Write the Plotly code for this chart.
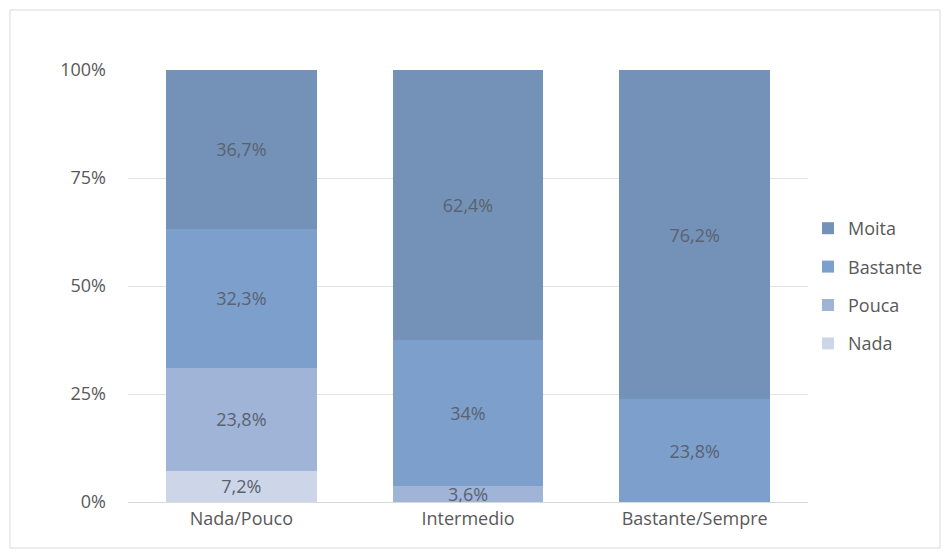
import plotly.graph_objects as go

categories = ["Nada/Pouco", "Intermedio", "Bastante/Sempre"]
series_names = ["Nada", "Pouca", "Bastante", "Moita"]
nada = [7.2, 0, 0]
pouca = [23.8, 3.6, 0]
bastante = [32.3, 34, 23.8]
moita = [36.7, 62.4, 76.2]
labels_nada = ["7,2%", "", ""]
labels_pouca = ["23,8%", "3,6%", ""]
labels_bastante = ["32,3%", "34%", "23,8%"]
labels_moita = ["36,7%", "62,4%", "76,2%"]
tick_vals = [0, 25, 50, 75, 100]
tick_text = ["0%", "25%", "50%", "75%", "100%"]

colors = ["#cdd6e8", "#a0b4d7", "#7d9fcc", "#7492b8"]
values = [nada, pouca, bastante, moita]
texts = [labels_nada, labels_pouca, labels_bastante, labels_moita]
ranks = [4, 3, 2, 1]

W, H = 942, 551
L, R, T, B = 120, 142, 62, 57
pw, ph = W - L - R, H - T - B

fig = go.Figure()
for name, vals, txt, col, rk in zip(series_names, values, texts, colors, ranks):
    fig.add_trace(go.Bar(
        x=categories, y=vals, name=name, marker_color=col,
        marker_line_width=0,
        text=txt, texttemplate="%{text}", textposition="inside",
        insidetextanchor="middle", textangle=0,
        textfont=dict(color="#5a6270", size=18, family="Open Sans"),
        legendgroup=name, legendrank=rk,
    ))

fig.update_layout(
    barmode="stack",
    bargap=0.335,
    width=W, height=H,
    margin=dict(l=L, r=R, t=T, b=B),
    paper_bgcolor="white", plot_bgcolor="white",
    font=dict(family="Open Sans", color="#595959", size=18),
    uniformtext=dict(minsize=8, mode="show"),
    legend=dict(
        x=1.0, xanchor="left", y=0.5, yanchor="middle",
        traceorder="grouped", tracegroupgap=12,
        font=dict(size=18, color="#595959"),
        itemwidth=30,
    ),
    xaxis=dict(showgrid=False, showline=True, linecolor="#d9d9d9",
               tickfont=dict(size=18, color="#595959"), ticks=""),
    yaxis=dict(range=[0, 100], tickvals=tick_vals, ticktext=tick_text,
               showgrid=True, gridcolor="#e3e3e3", zeroline=False,
               tickfont=dict(size=18, color="#595959"), ticks="",
               ticklabelstandoff=21),
    shapes=[dict(type="rect", xref="paper", yref="paper",
                 x0=-(L - 2) / pw, x1=1 + (R - 10) / pw,
                 y0=-(B - 11) / ph, y1=1 + (T - 2) / ph,
                 line=dict(color="#d9d9d9", width=1), layer="below")],
)

fig.write_html("out.html")
